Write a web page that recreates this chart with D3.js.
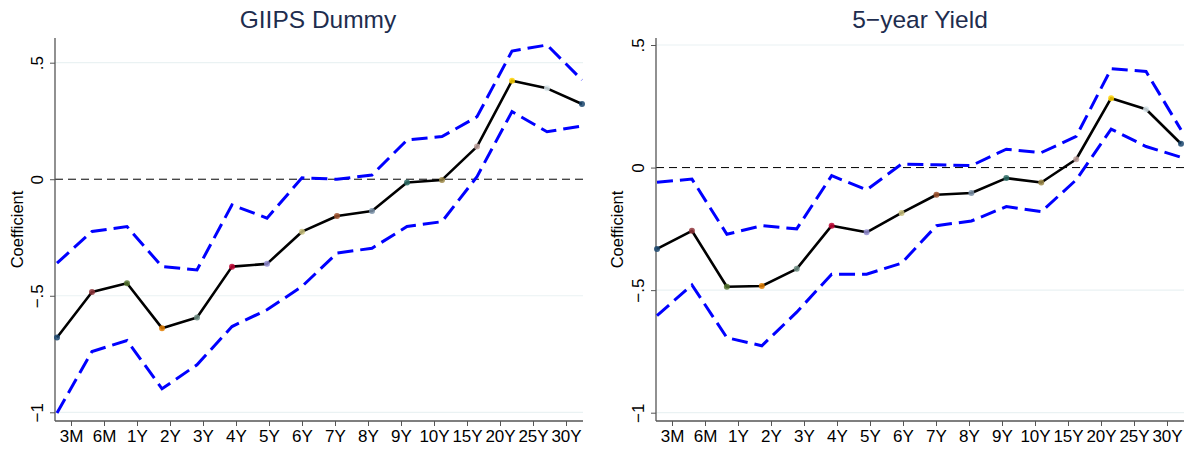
<!DOCTYPE html>
<html>
<head>
<meta charset="utf-8">
<script src="https://cdn.jsdelivr.net/npm/d3@7"></script>
<style>
  body { margin: 0; background: #fff; }
  svg { display: block; font-family: "Liberation Sans", Arial, sans-serif; }
</style>
</head>
<body>
<svg id="chart" width="1188" height="449"></svg>
<script>
// maturities on the x axis
const categories = ["3M", "6M", "1Y", "2Y", "3Y", "4Y", "5Y", "6Y", "7Y", "8Y", "9Y", "10Y", "15Y", "20Y", "25Y", "30Y"];
const yTicks = [-1, -0.5, 0, 0.5];
const yTickLabels = ["\u22121", "\u2212.5", "0", ".5"];

// GIIPS dummy: coefficient and 95% bands
const giipsCoef  = [-0.679, -0.484, -0.446, -0.639, -0.593, -0.375, -0.363, -0.225, -0.158, -0.136, -0.014, -0.003, 0.140, 0.423, 0.390, 0.323];
const giipsUpper = [-0.360, -0.224, -0.203, -0.375, -0.389, -0.110, -0.167, 0.006, 0.000, 0.018, 0.168, 0.183, 0.268, 0.550, 0.576, 0.426];
const giipsLower = [-1.003, -0.739, -0.692, -0.899, -0.796, -0.632, -0.560, -0.460, -0.317, -0.296, -0.203, -0.182, 0.011, 0.290, 0.204, 0.228];

// 5-year yield: coefficient and 95% bands
const yieldCoef  = [-0.332, -0.258, -0.486, -0.483, -0.413, -0.237, -0.264, -0.185, -0.111, -0.104, -0.043, -0.061, 0.034, 0.283, 0.238, 0.097];
const yieldUpper = [-0.060, -0.047, -0.272, -0.237, -0.250, -0.033, -0.091, 0.014, 0.011, 0.008, 0.075, 0.061, 0.127, 0.403, 0.392, 0.154];
const yieldLower = [-0.604, -0.479, -0.694, -0.727, -0.590, -0.435, -0.435, -0.390, -0.237, -0.218, -0.159, -0.180, -0.050, 0.157, 0.086, 0.042];

// stata s2color marker palette, one per maturity
const markerColors = ["#1a476f", "#90353b", "#55752f", "#e37e00", "#6e8e84", "#c10534", "#938dd2", "#cac27e",
  "#a0522d", "#7b92a8", "#2d6d66", "#9c8847", "#bfa19c", "#ffd200", "#d9e6eb", "#1a476f"];

const panels = [
  { title: "GIIPS Dummy", coef: giipsCoef, upper: giipsUpper, lower: giipsLower,
    axisX: 55, rightX: 583, top: 38, bottom: 421, dataRange: [57, 582], tickRange: [71, 566],
    yRange: [412.3, 62.7], titleX: 318, ylabX: 17, tickLabX: 43 },
  { title: "5\u2212year Yield", coef: yieldCoef, upper: yieldUpper, lower: yieldLower,
    axisX: 656, rightX: 1184, top: 38, bottom: 421, dataRange: [657, 1181], tickRange: [672, 1167],
    yRange: [412.7, 45], titleX: 920, ylabX: 617, tickLabX: 644 }
];

const svg = d3.select("#chart");

panels.forEach(p => {
  const g = svg.append("g");

  const x = d3.scalePoint().domain(categories).range(p.dataRange);
  const xt = d3.scalePoint().domain(categories).range(p.tickRange);
  const y = d3.scaleLinear().domain([-1, 0.5]).range(p.yRange);

  // light grid lines (not at zero, that one is dashed)
  g.append("g").selectAll("line")
    .data(yTicks.filter(d => d !== 0))
    .join("line")
      .attr("x1", p.axisX).attr("x2", p.rightX)
      .attr("y1", d => y(d)).attr("y2", d => y(d))
      .attr("stroke", "#eaf2f3").attr("stroke-width", 1.2);

  // zero reference line
  g.append("line")
    .attr("x1", p.axisX).attr("x2", p.rightX)
    .attr("y1", y(0)).attr("y2", y(0))
    .attr("stroke", "#000").attr("stroke-width", 1)
    .attr("stroke-dasharray", "8,5");

  // y axis
  const yAxis = g.append("g")
    .attr("transform", `translate(${p.axisX},0)`)
    .call(d3.axisLeft(y).tickValues(yTicks).tickSize(5).tickFormat((d, i) => yTickLabels[i]));
  yAxis.select(".domain").attr("d", `M0,${p.top}V${p.bottom}`).attr("stroke", "#555").attr("stroke-width", 1.3);
  yAxis.selectAll(".tick line").attr("stroke", "#555");
  yAxis.selectAll(".tick text")
    .attr("x", null).attr("dy", null)
    .attr("text-anchor", "middle")
    .attr("font-size", 17).attr("fill", "#000")
    .attr("transform", `translate(${p.tickLabX - p.axisX},0) rotate(-90)`);

  // x axis (stata puts ticks on a slightly different grid than the points)
  const xAxis = g.append("g")
    .attr("transform", `translate(0,${p.bottom})`)
    .call(d3.axisBottom(xt).tickSize(5).tickSizeOuter(0));
  xAxis.select(".domain").attr("d", `M${p.axisX},0H${p.rightX}`).attr("stroke", "#555").attr("stroke-width", 1.3);
  xAxis.selectAll(".tick line").attr("stroke", "#555");
  xAxis.selectAll(".tick text").attr("font-size", 17).attr("fill", "#000").attr("dy", "0.9em").attr("y", 6);

  // y label
  g.append("text")
    .attr("transform", `translate(${p.ylabX},${(p.top + p.bottom) / 2}) rotate(-90)`)
    .attr("text-anchor", "middle")
    .attr("dy", "0.35em")
    .attr("font-size", 16.5)
    .text("Coefficient");

  // title
  g.append("text")
    .attr("x", p.titleX).attr("y", 28)
    .attr("text-anchor", "middle")
    .attr("font-size", 24.5)
    .attr("fill", "#1e2d4e")
    .text(p.title);

  const line = d3.line().x((d, i) => x(categories[i])).y(d => y(d));

  // confidence bands
  [p.upper, p.lower].forEach(band => {
    g.append("path")
      .datum(band)
      .attr("d", line)
      .attr("fill", "none")
      .attr("stroke", "#0000ff")
      .attr("stroke-width", 3)
      .attr("stroke-dasharray", "16,7");
  });

  // coefficient line
  g.append("path")
    .datum(p.coef)
    .attr("d", line)
    .attr("fill", "none")
    .attr("stroke", "#000")
    .attr("stroke-width", 2.6)
    .attr("stroke-linejoin", "round");

  g.append("g").selectAll("circle")
    .data(p.coef)
    .join("circle")
      .attr("cx", (d, i) => x(categories[i]))
      .attr("cy", d => y(d))
      .attr("r", 3)
      .attr("fill", (d, i) => markerColors[i])
      .attr("fill-opacity", 0.85);
});
</script>
</body>
</html>
